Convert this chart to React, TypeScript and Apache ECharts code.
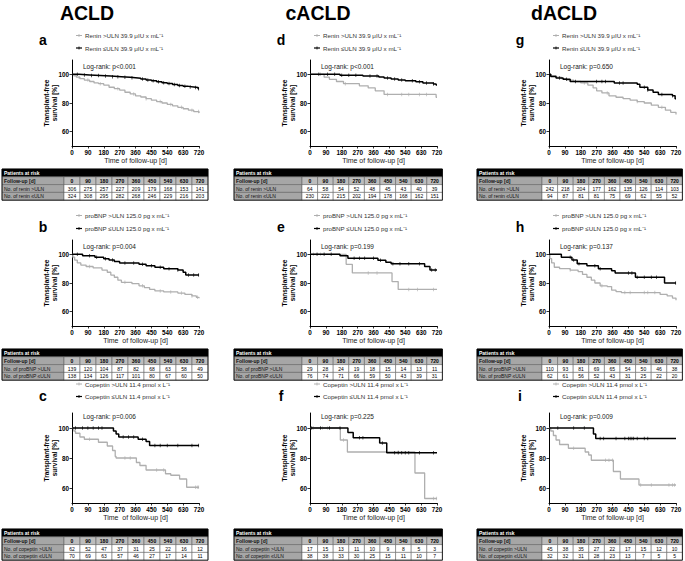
import React, { useEffect, useRef } from "react";
import * as echarts from "echarts";

// ---------------- data ----------------
const followUpDays = [0, 90, 180, 270, 360, 450, 540, 630, 720];
const yTickValues = [60, 80, 100];
const groupTitles = ["ACLD", "cACLD", "dACLD"];
const panelLetters = ["a", "b", "c", "d", "e", "f", "g", "h", "i"];
const markerNames = ["Renin", "proBNP", "Copeptin"];
const markerTableNames = ["renin", "proBNP", "copeptin"];
const thresholds = ["39.9 \u03BCIU x mL\u207B\u00B9", "125.0 pg x mL\u207B\u00B9", "11.4 pmol x L\u207B\u00B9"];
const logRankP = ["p<0.001", "p=0.004", "p=0.006", "p<0.001", "p=0.199", "p=0.225", "p=0.650", "p=0.137", "p=0.009"];

// survival curves [day, %] ; High = >ULN (grey), Low = <=ULN (black)
const aHigh = [[0,100],[10,99],[25,98],[45,97],[70,96],[100,95],[125,94],[150,93.5],[180,92.5],[210,91],[240,90],[270,89],[300,87.5],[330,86.3],[360,85],[390,84.2],[420,83],[450,82],[480,81],[510,80],[540,79],[570,78],[600,77],[630,76],[660,75],[690,74],[720,73]];
const aLow = [[0,100],[40,99.6],[100,99.2],[160,98.8],[220,98.4],[280,98],[330,97.6],[360,97.2],[390,96.7],[420,96.1],[450,95.5],[480,94.8],[510,94.2],[540,93.6],[570,92.9],[600,92.2],[630,91.6],[660,91.2],[690,90.8],[715,90],[720,90]];
const bHigh = [[0,100],[5,98],[15,96],[30,94],[50,92.5],[80,91.5],[120,90.5],[170,89],[200,87.5],[220,85.5],[240,84],[260,82],[280,80.5],[340,79.5],[380,78],[410,76.8],[440,75.5],[470,74.5],[520,73.8],[600,73],[640,72],[680,71],[705,70],[720,69.3]];
const bLow = [[0,100],[60,99],[130,98],[180,97],[210,96],[240,95],[270,94],[380,93],[420,92],[470,91],[520,90],[600,89],[630,87.5],[645,85.5],[720,85.5]];
const cHigh = [[0,100],[10,98],[20,96.5],[45,94],[70,92.5],[150,90.5],[200,88],[230,85],[245,81],[250,80],[365,77],[385,75],[420,72],[530,69.5],[560,68.5],[610,66],[650,60.5],[720,60.5]];
const cLow = [[0,100],[235,98],[250,96],[265,94],[375,92.5],[420,91],[440,88.3],[720,88.3]];
const dHigh = [[0,100],[80,98],[110,96.5],[150,95],[190,93.5],[280,92],[330,90.5],[370,88.5],[420,86],[710,86],[715,84],[720,84]];
const dLow = [[0,100],[170,99.3],[300,98.8],[390,98.2],[420,97.5],[460,96.8],[500,96],[540,95.5],[600,94.8],[640,94],[700,93.3],[715,92.5],[720,92.5]];
const eHigh = [[0,100],[205,93],[240,87],[465,81],[500,75.5],[720,75.5]];
const eLow = [[0,100],[170,99],[215,97.2],[385,95.8],[430,94.5],[460,93.5],[650,91.5],[680,89],[720,89]];
const fHigh = [[0,100],[172,92],[212,84],[595,70],[650,53],[720,53]];
const fLow = [[0,100],[215,97],[245,93.5],[395,90],[435,83.5],[720,83.5]];
const gHigh = [[0,100],[10,99],[40,98],[70,97],[100,96],[140,95],[180,94],[220,92.5],[250,90.5],[270,88.5],[300,87],[340,85],[380,84],[420,83],[460,82],[500,81],[540,80],[580,78.5],[620,77],[660,75],[690,73.5],[720,72]];
const gLow = [[0,100],[10,98.5],[40,97.5],[80,96.5],[120,95],[370,94],[500,93],[515,91],[560,89],[590,87.5],[620,86],[700,85],[715,83],[720,83]];
const hHigh = [[0,100],[5,97],[15,94],[30,91],[60,90],[120,89],[165,88],[190,86],[215,84],[240,82],[260,80],[290,78],[330,77.5],[355,75],[380,74],[410,73.3],[630,72],[670,71],[700,69.5],[720,68]];
const hLow = [[0,100],[70,98],[130,96],[160,93.5],[215,92],[280,90],[355,88.5],[375,87],[490,84],[655,80],[720,80]];
const iHigh = [[0,100],[10,98],[25,95],[40,92],[60,89],[110,86.5],[205,84],[225,82],[240,78.5],[365,71],[405,66],[510,62],[720,62]];
const iLow = [[0,100],[252,96],[265,93],[720,93]];

// censoring times (days)
const aCensHigh = [40, 90, 160, 260, 350, 420, 500, 560, 620, 680, 718];
const aCensLow = [30, 70, 110, 150, 190, 230, 260, 300, 340, 400, 430, 460, 490, 520, 550, 580, 610, 640, 670, 700, 718];
const bCensHigh = [100, 300, 400, 500, 560, 620, 680, 712];
const bCensLow = [30, 100, 140, 190, 230, 300, 350, 400, 450, 500, 550, 600, 660, 690, 718];
const cCensHigh = [100, 300, 330, 480, 520, 700, 710, 718];
const cCensLow = [20, 60, 90, 120, 150, 170, 290, 320, 350, 400, 470, 500, 540, 600, 680, 718];
const dCensHigh = [60, 200, 440, 520, 560, 620, 660];
const dCensLow = [50, 100, 140, 180, 220, 260, 340, 380, 440, 480, 520, 580, 620, 660, 700];
const eCensHigh = [20, 60, 330, 380, 560, 610, 700];
const eCensLow = [40, 80, 120, 250, 280, 310, 360, 400, 470, 510, 560, 620, 690, 710];
const fCensHigh = [20, 70, 100, 190, 500, 700, 718];
const fCensLow = [10, 60, 110, 170, 280, 300, 410, 480, 500, 520, 540, 560, 620, 700];
const gCensHigh = [200, 330, 500, 640];
const gCensLow = [60, 100, 150, 270, 300, 320, 400, 420, 540, 560, 640, 700];
const hCensHigh = [120, 300, 430, 460, 540, 560, 600];
const hCensLow = [120, 140, 170, 260, 290, 450, 470, 500, 540, 580, 610, 718];
const iCensHigh = [140, 320, 340, 360, 520, 580, 680, 700, 712];
const iCensLow = [50, 140, 200, 290, 310, 380, 430, 450, 460, 470, 480, 500, 540, 560];

// patients at risk
const aRiskHigh = [306, 275, 257, 227, 209, 179, 168, 153, 141];
const aRiskLow = [324, 308, 295, 282, 268, 246, 229, 216, 203];
const bRiskHigh = [139, 120, 104, 87, 82, 68, 63, 58, 49];
const bRiskLow = [138, 134, 126, 117, 101, 80, 67, 60, 50];
const cRiskHigh = [62, 52, 47, 37, 31, 25, 22, 16, 12];
const cRiskLow = [70, 69, 63, 57, 46, 27, 17, 14, 11];
const dRiskHigh = [64, 58, 54, 52, 48, 45, 43, 40, 39];
const dRiskLow = [230, 222, 215, 202, 194, 178, 168, 162, 151];
const eRiskHigh = [29, 28, 24, 19, 18, 15, 14, 13, 11];
const eRiskLow = [76, 74, 71, 66, 59, 50, 43, 39, 31];
const fRiskHigh = [17, 15, 13, 11, 10, 9, 8, 5, 3];
const fRiskLow = [38, 38, 33, 30, 25, 15, 11, 10, 7];
const gRiskHigh = [242, 218, 204, 177, 162, 135, 126, 114, 103];
const gRiskLow = [94, 87, 81, 81, 75, 69, 62, 55, 52];
const hRiskHigh = [110, 93, 81, 69, 65, 54, 50, 46, 38];
const hRiskLow = [62, 61, 56, 52, 43, 31, 25, 22, 20];
const iRiskHigh = [45, 38, 35, 27, 22, 17, 15, 12, 10];
const iRiskLow = [32, 32, 31, 28, 23, 13, 7, 5, 5];

const panels = [
  { high: aHigh, low: aLow, cH: aCensHigh, cL: aCensLow, rH: aRiskHigh, rL: aRiskLow },
  { high: bHigh, low: bLow, cH: bCensHigh, cL: bCensLow, rH: bRiskHigh, rL: bRiskLow },
  { high: cHigh, low: cLow, cH: cCensHigh, cL: cCensLow, rH: cRiskHigh, rL: cRiskLow },
  { high: dHigh, low: dLow, cH: dCensHigh, cL: dCensLow, rH: dRiskHigh, rL: dRiskLow },
  { high: eHigh, low: eLow, cH: eCensHigh, cL: eCensLow, rH: eRiskHigh, rL: eRiskLow },
  { high: fHigh, low: fLow, cH: fCensHigh, cL: fCensLow, rH: fRiskHigh, rL: fRiskLow },
  { high: gHigh, low: gLow, cH: gCensHigh, cL: gCensLow, rH: gRiskHigh, rL: gRiskLow },
  { high: hHigh, low: hLow, cH: hCensHigh, cL: hCensLow, rH: hRiskHigh, rL: hRiskLow },
  { high: iHigh, low: iLow, cH: iCensHigh, cL: iCensLow, rH: iRiskHigh, rL: iRiskLow },
];

// ---------------- layout ----------------
const FONT = "'Liberation Sans', Arial, sans-serif";
const GREY = "#afafaf";
const AXIS_X = [72, 310, 549];
const PLOT_W = 127;
const GRID_TOP = [60, 240, 413];
const GRID_H = [86, 86, 90];
const LEG1_Y = [35.5, 215.5, 384];
const LEG2_Y = [48, 228.5, 396.5];
const LETTER_Y = [40, 227, 396];
const LOGRANK_Y = [66, 246, 416];
const TABLE_TOP = [169, 349, 529];
const TITLE_X = [87, 318, 564];
const TABLE_LEFT = [2, 234, 477];
const TABLE_LABEL_W = [62, 68, 65];
const TABLE_COL_W = [16, 15.6, 15.6];
const ROW_H = 7.8;

function survivalAt(curve: number[][], t: number) {
  let v = curve[0][1];
  for (const [d, s] of curve) {
    if (d <= t) v = s;
    else break;
  }
  return v;
}

function txt(x: number, y: number, text: string, o: any = {}) {
  return {
    type: "text",
    x,
    y,
    rotation: o.rot || 0,
    silent: true,
    z: 10,
    style: {
      text,
      fill: o.fill || "#000",
      fontSize: o.size || 6,
      fontWeight: o.weight || "normal",
      fontFamily: FONT,
      align: o.align || "left",
      verticalAlign: o.va || "middle",
      lineHeight: o.lh,
    },
  };
}

function rect(x: number, y: number, w: number, h: number, fill: string, stroke: string, lw = 0.5) {
  return { type: "rect", silent: true, z: 5, shape: { x, y, width: w, height: h }, style: { fill, stroke, lineWidth: lw } };
}

function line(x1: number, y1: number, x2: number, y2: number, color: string, w: number) {
  return { type: "line", silent: true, z: 10, shape: { x1, y1, x2, y2 }, style: { stroke: color, lineWidth: w } };
}

function tableEls(left: number, top: number, labelW: number, colW: number, name: string, high: number[], low: number[]) {
  const els: any[] = [];
  const W = labelW + colW * followUpDays.length;
  els.push(rect(left, top, W, ROW_H, "#000", "#000"));
  els.push(txt(left + 2, top + ROW_H / 2, "Patients at risk", { fill: "#fff", size: 5, weight: "bold" }));
  const rows = [
    { label: "Follow-up [d]", vals: followUpDays, cellFill: "#bdbdbd", bold: true },
    { label: `No. of ${name} >ULN`, vals: high, cellFill: "#fff", bold: false },
    { label: `No. of ${name} \u2264ULN`, vals: low, cellFill: "#fff", bold: false },
  ];
  rows.forEach((row, i) => {
    const y = top + ROW_H * (i + 1);
    els.push(rect(left, y, labelW, ROW_H, "#a6a6a6", "#555"));
    els.push(txt(left + 2, y + ROW_H / 2, row.label, { size: 5, weight: row.bold ? "bold" : "normal", fill: "#111" }));
    row.vals.forEach((v, j) => {
      const x = left + labelW + colW * j;
      els.push(rect(x, y, colW, ROW_H, row.cellFill, "#555"));
      els.push(txt(x + colW / 2, y + ROW_H / 2, String(v), { size: 5, align: "center", weight: row.bold ? "bold" : "normal" }));
    });
  });
  els.push({ type: "rect", silent: true, z: 6, shape: { x: left, y: top, width: W, height: ROW_H * 4 }, style: { fill: "none", stroke: "#000", lineWidth: 0.8 } });
  return els;
}

function buildOption() {
  const grids: any[] = [];
  const xAxes: any[] = [];
  const yAxes: any[] = [];
  const series: any[] = [];
  const els: any[] = [];

  groupTitles.forEach((t, c) => {
    els.push(txt(TITLE_X[c], 13, t, { size: 19.5, weight: "bold", align: "center" }));
  });

  panels.forEach((p, idx) => {
    const c = Math.floor(idx / 3);
    const r = idx % 3;
    const ax = AXIS_X[c];
    grids.push({ left: ax, top: GRID_TOP[r], width: PLOT_W, height: GRID_H[r] });
    xAxes.push({
      type: "value",
      gridIndex: idx,
      min: 0,
      max: 720,
      interval: 90,
      axisLine: { show: true, onZero: false, lineStyle: { color: "#000", width: 1 } },
      axisTick: { show: true, length: 2.5, lineStyle: { color: "#000", width: 0.8 } },
      axisLabel: { fontSize: 6.3, fontWeight: "bold", color: "#000", margin: 3.5, fontFamily: FONT },
      splitLine: { show: false },
      name: c === 0 && r > 0 ? "Time  of follow-up [d]" : "Time of follow-up [d]",
      nameLocation: "middle",
      nameGap: 11,
      nameTextStyle: { fontSize: 7, color: "#222", fontFamily: FONT },
    });
    yAxes.push({
      type: "value",
      gridIndex: idx,
      min: 50,
      max: 110,
      interval: 10,
      axisLine: { show: true, onZero: false, lineStyle: { color: "#000", width: 1 } },
      axisTick: { show: true, length: 2.5, customValues: yTickValues, lineStyle: { color: "#000", width: 0.8 } },
      axisLabel: { customValues: yTickValues, fontSize: 6.3, fontWeight: "bold", color: "#000", margin: 3, fontFamily: FONT },
      splitLine: { show: false },
    });
    series.push({
      type: "line", xAxisIndex: idx, yAxisIndex: idx, data: p.high, step: "end", showSymbol: false, silent: true, z: 2,
      lineStyle: { color: GREY, width: 1.3 },
    });
    series.push({
      type: "line", xAxisIndex: idx, yAxisIndex: idx, data: p.low, step: "end", showSymbol: false, silent: true, z: 3,
      lineStyle: { color: "#000", width: 1.5 },
    });
    series.push({
      type: "scatter", xAxisIndex: idx, yAxisIndex: idx, silent: true, z: 2,
      data: p.cH.map((t) => [t, survivalAt(p.high, t)]),
      symbol: "rect", symbolSize: [0.8, 3.5], itemStyle: { color: GREY },
    });
    series.push({
      type: "scatter", xAxisIndex: idx, yAxisIndex: idx, silent: true, z: 3,
      data: p.cL.map((t) => [t, survivalAt(p.low, t)]),
      symbol: "rect", symbolSize: [0.8, 3.5], itemStyle: { color: "#000" },
    });

    // panel letter
    els.push(txt(ax - 29, LETTER_Y[r], panelLetters[idx], { size: 14, weight: "bold", align: "center" }));
    // legend
    const l1 = LEG1_Y[r];
    const l2 = LEG2_Y[r];
    els.push(line(ax + 4, l1, ax + 10, l1, GREY, 1));
    els.push(line(ax + 7, l1 - 1.5, ax + 7, l1 + 1.5, GREY, 0.8));
    els.push(line(ax + 4, l2, ax + 10, l2, "#000", 1.2));
    els.push(line(ax + 7, l2 - 1.5, ax + 7, l2 + 1.5, "#000", 0.8));
    els.push(txt(ax + 13, l1, `${markerNames[r]} >ULN ${thresholds[r]}`, { size: 6.2, fill: "#333" }));
    els.push(txt(ax + 13, l2, `${markerNames[r]} \u2264ULN ${thresholds[r]}`, { size: 6.2, fill: "#333" }));
    // log-rank
    els.push(txt(ax + 11, LOGRANK_Y[r], `Log-rank: ${logRankP[idx]}`, { size: 6.5, fill: "#222" }));
    // y title
    els.push(txt(ax - 21.5, GRID_TOP[r] + GRID_H[r] / 2, "Transplant-free\nsurvival [%]", { size: 6.5, weight: "bold", align: "center", rot: Math.PI / 2, lh: 7.5 }));
    // table
    els.push(...tableEls(TABLE_LEFT[c], TABLE_TOP[r], TABLE_LABEL_W[c], TABLE_COL_W[c], markerTableNames[r], p.rH, p.rL));
  });

  return {
    animation: false,
    backgroundColor: "#fff",
    textStyle: { fontFamily: FONT },
    grid: grids,
    xAxis: xAxes,
    yAxis: yAxes,
    series,
    graphic: { elements: els },
  };
}

export default function App() {
  const ref = useRef<HTMLDivElement>(null);
  useEffect(() => {
    document.body.style.margin = "0";
    const chart = echarts.init(ref.current!, undefined, { renderer: "svg" });
    chart.setOption(buildOption() as any);
    return () => chart.dispose();
  }, []);
  return <div ref={ref} style={{ width: 685, height: 561 }} />;
}
